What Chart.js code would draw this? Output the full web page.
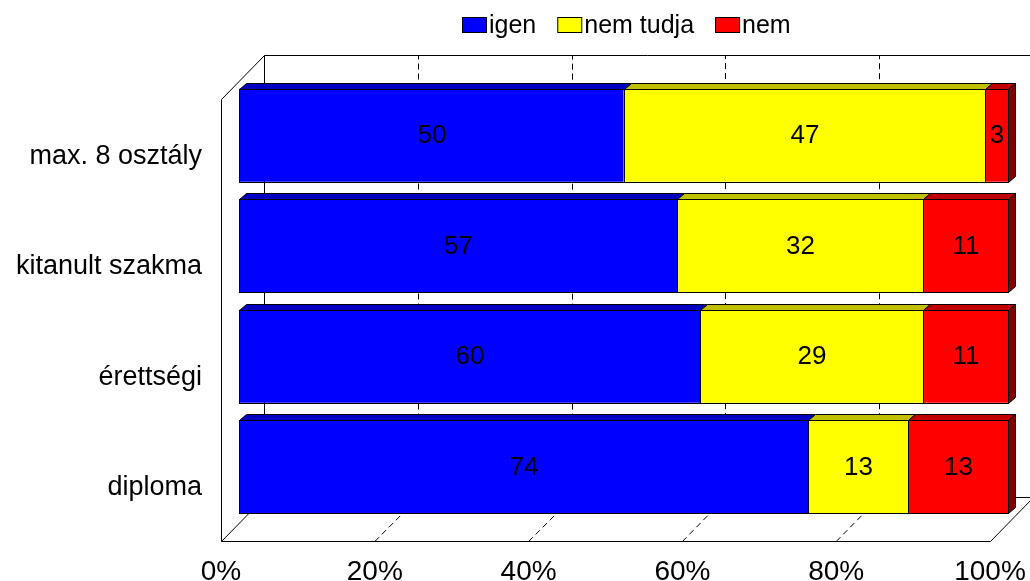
<!DOCTYPE html>
<html>
<head>
<meta charset="utf-8">
<script src="https://cdn.jsdelivr.net/npm/chart.js@4.4.0/dist/chart.umd.min.js"></script>
<style>
 body { margin: 0; background: #fff; }
</style>
</head>
<body>
<canvas id="myChart" width="1030" height="581"></canvas>
<script>
'use strict';

var categories = ['max. 8 osztály', 'kitanult szakma', 'érettségi', 'diploma'];
var seriesNames = ['igen', 'nem tudja', 'nem'];
var igen = [50, 57, 60, 74];
var nemTudja = [47, 32, 29, 13];
var nem = [3, 11, 11, 13];
var xTicks = [0, 20, 40, 60, 80, 100];

var frontColors = ['#0000ff', '#ffff00', '#ff0000'];
var topColors = ['#0000c0', '#c0c000', '#c00000'];
var sideColors = ['#000080', '#808000', '#800000'];

var FONT = '"Liberation Sans", Arial, sans-serif';
// offsets of the 3d box planes, relative to the plane of the bar fronts
var front = {dx: -18, dy: 19};
var back = {dx: 25, dy: -25};
var depth = {dx: 7, dy: -6};

function px(v) { return Math.round(v) + 0.5; }

function poly(c, pts, fill) {
  c.beginPath();
  c.moveTo(pts[0][0], pts[0][1]);
  for (var i = 1; i < pts.length; i++) c.lineTo(pts[i][0], pts[i][1]);
  c.closePath();
  c.fillStyle = fill;
  c.fill();
  c.stroke();
}

var walls = {
  id: 'walls',
  beforeDatasetsDraw: function (chart) {
    var c = chart.ctx, a = chart.chartArea, xs = chart.scales.x;
    var x0 = xs.getPixelForValue(0), x1 = xs.getPixelForValue(100);
    var fb = px(a.bottom + front.dy), bb = px(a.bottom + back.dy);
    var ft = px(a.top + front.dy), bt = px(a.top + back.dy);
    c.save();
    c.strokeStyle = '#000';
    c.lineWidth = 1;
    // dashed gridlines on floor and back wall
    c.setLineDash([6, 4]);
    xTicks.slice(1, -1).forEach(function (v) {
      var p = xs.getPixelForValue(v);
      c.beginPath();
      c.moveTo(p + front.dx, fb);
      c.lineTo(px(p + back.dx), bb);
      c.lineTo(px(p + back.dx), bt);
      c.stroke();
    });
    c.setLineDash([]);
    c.beginPath();
    // left wall
    c.moveTo(px(x0 + front.dx), fb);
    c.lineTo(px(x0 + front.dx), ft);
    c.lineTo(px(x0 + back.dx), bt);
    c.lineTo(px(x0 + back.dx), bb);
    c.lineTo(px(x0 + front.dx), fb);
    // floor
    c.lineTo(px(x1 + front.dx), fb);
    c.lineTo(px(x1 + back.dx), bb);
    c.lineTo(px(x0 + back.dx), bb);
    // back wall
    c.moveTo(px(x0 + back.dx), bt);
    c.lineTo(px(x1 + back.dx), bt);
    c.lineTo(px(x1 + back.dx), bb);
    c.stroke();
    c.restore();
  }
};

var faces = {
  id: 'faces',
  afterDatasetsDraw: function (chart) {
    var c = chart.ctx;
    var n = chart.data.datasets.length;
    c.save();
    c.strokeStyle = '#000';
    c.lineWidth = 1;
    var labels = [];
    chart.data.datasets.forEach(function (ds, di) {
      chart.getDatasetMeta(di).data.forEach(function (bar, i) {
        var p = bar.getProps(['x', 'y', 'base', 'height'], true);
        var l = px(Math.min(p.x, p.base)), r = px(Math.max(p.x, p.base));
        var t = px(p.y - p.height / 2), b = px(p.y + p.height / 2);
        poly(c, [[l, t], [l + depth.dx, t + depth.dy], [r + depth.dx, t + depth.dy], [r, t]], topColors[di]);
        if (di === n - 1) {
          poly(c, [[r, t], [r + depth.dx, t + depth.dy], [r + depth.dx, b + depth.dy], [r, b]], sideColors[di]);
        }
        // front outline, crisp black
        c.strokeRect(l, t, r - l, b - t);
        labels.push({text: String(ds.data[i]), x: (l + r) / 2, y: p.y});
      });
    });
    c.fillStyle = '#000';
    c.font = '26px ' + FONT;
    c.textAlign = 'center';
    c.textBaseline = 'middle';
    labels.forEach(function (lb) { c.fillText(lb.text, lb.x, lb.y + 1); });
    c.restore();
  }
};

var legendBox = {
  id: 'legendBox',
  afterDraw: function (chart) {
    var c = chart.ctx, a = chart.chartArea;
    c.save();
    c.font = '25px ' + FONT;
    var items = chart.data.datasets.map(function (ds) {
      return {label: ds.label, color: ds.backgroundColor, w: 24 + 3 + c.measureText(ds.label).width};
    });
    var gap = 21;
    var total = items.reduce(function (s, it) { return s + it.w; }, 0) + gap * (items.length - 1);
    var x = Math.round((a.left + a.right) / 2 + 3 - total / 2);
    items.forEach(function (it) {
      c.fillStyle = it.color;
      c.fillRect(x, 17, 24, 15);
      c.strokeStyle = '#000';
      c.lineWidth = 1;
      c.strokeRect(x + 0.5, 17.5, 24, 15);
      c.fillStyle = '#000';
      c.textAlign = 'left';
      c.textBaseline = 'alphabetic';
      c.fillText(it.label, x + 27, 33);
      x += it.w + gap;
    });
    c.restore();
  }
};

var seriesValues = [igen, nemTudja, nem];

var myChart = new Chart(document.getElementById('myChart'), {
  type: 'bar',
  data: {
    labels: categories,
    datasets: seriesValues.map(function (vals, i) {
      return {
        label: seriesNames[i],
        data: vals,
        backgroundColor: frontColors[i],
        borderWidth: 0,
        barPercentage: 0.84,
        categoryPercentage: 1
      };
    })
  },
  options: {
    indexAxis: 'y',
    responsive: false,
    animation: false,
    layout: {padding: {top: 80, right: 22, bottom: 0, left: 0}},
    plugins: {
      legend: {display: false},
      tooltip: {enabled: false}
    },
    scales: {
      x: {
        stacked: true,
        min: 0,
        max: 100,
        afterBuildTicks: function (scale) {
          scale.ticks = xTicks.map(function (v) { return {value: v}; });
        },
        afterFit: function (scale) {
          scale.height = 59;
          scale.paddingLeft = 0;
          scale.paddingRight = 0;
        },
        grid: {display: false, drawTicks: false},
        border: {display: false},
        ticks: {
          padding: 33,
          labelOffset: front.dx,
          maxRotation: 0,
          color: '#000',
          font: {family: FONT, size: 28},
          callback: function (v) { return v + '%'; }
        }
      },
      y: {
        stacked: true,
        afterFit: function (scale) { scale.width = 239; },
        grid: {display: false, drawTicks: false},
        border: {display: false},
        ticks: {
          padding: 37,
          labelOffset: 21,
          color: '#000',
          font: {family: FONT, size: 27}
        }
      }
    }
  },
  plugins: [walls, faces, legendBox]
});
</script>
</body>
</html>
